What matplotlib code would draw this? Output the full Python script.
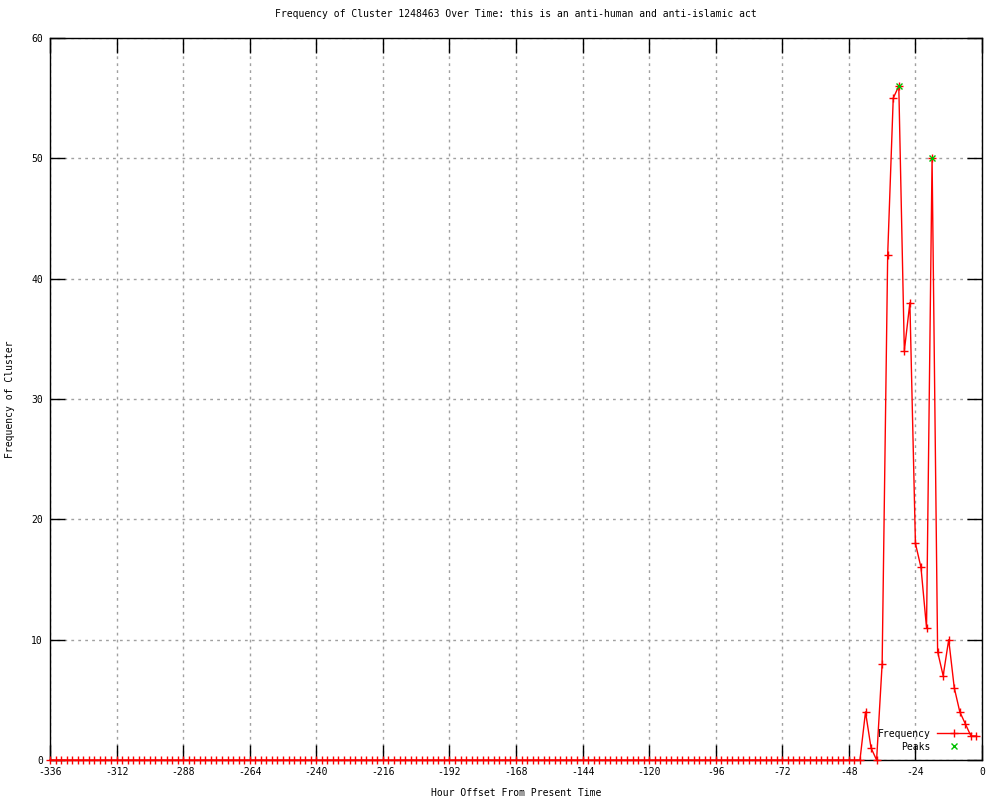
import numpy as np
import matplotlib.pyplot as plt

# hour offsets, one sample every 2 hours
hours = np.arange(-336, 0, 2)
freq = [
    0, 0, 0, 0, 0, 0, 0, 0, 0, 0, 0, 0, 0, 0, 0, 0, 0, 0, 0, 0, 0,
    0, 0, 0, 0, 0, 0, 0, 0, 0, 0, 0, 0, 0, 0, 0, 0, 0, 0, 0, 0, 0,
    0, 0, 0, 0, 0, 0, 0, 0, 0, 0, 0, 0, 0, 0, 0, 0, 0, 0, 0, 0, 0,
    0, 0, 0, 0, 0, 0, 0, 0, 0, 0, 0, 0, 0, 0, 0, 0, 0, 0, 0, 0, 0,
    0, 0, 0, 0, 0, 0, 0, 0, 0, 0, 0, 0, 0, 0, 0, 0, 0, 0, 0, 0, 0,
    0, 0, 0, 0, 0, 0, 0, 0, 0, 0, 0, 0, 0, 0, 0, 0, 0, 0, 0, 0, 0,
    0, 0, 0, 0, 0, 0, 0, 0, 0, 0, 0, 0, 0, 0, 0, 0, 0, 0, 0, 0, 0,
    4, 1, 0, 8, 42, 55, 56, 34, 38, 18, 16, 11, 50, 9, 7, 10, 6, 4, 3, 2, 2,
]
peak_hours = [-30, -18]
peak_vals = [56, 50]

xticks = list(range(-336, 1, 24))
yticks = list(range(0, 61, 10))

plt.rcParams['font.family'] = 'DejaVu Sans Mono'
plt.rcParams['font.size'] = 7
plt.rcParams['axes.unicode_minus'] = False

fig = plt.figure(figsize=(10, 8), dpi=100)
ax = fig.add_axes([0.05, 0.05, 0.932, 0.9025])

ax.plot(hours, freq, color='red', linewidth=1, marker='+', markersize=6,
        markeredgewidth=1, label='Frequency', clip_on=False, zorder=3)
ax.plot(peak_hours, peak_vals, linestyle='none', color='#00c000', marker='x',
        markersize=5, markeredgewidth=1, label='Peaks', zorder=4)

ax.set_xlim(-336, 0)
ax.set_ylim(0, 60)
ax.set_xticks(xticks)
ax.set_yticks(yticks)
ax.tick_params(direction='in', length=11, width=1, top=True, right=True,
               labelsize=7, pad=5)
ax.grid(True, color='#a0a0a0', linestyle=(0, (2, 3)), linewidth=1)
for s in ax.spines.values():
    s.set_linewidth(1)

ax.set_title('Frequency of Cluster 1248463 Over Time: this is an anti-human and anti-islamic act',
             fontsize=7, pad=15)
ax.set_xlabel('Hour Offset From Present Time', fontsize=7, labelpad=8)
ax.set_ylabel('Frequency of Cluster', fontsize=7, labelpad=12)

ax.legend(loc='lower right', bbox_to_anchor=(0.993, 0.005), markerfirst=False,
          frameon=False, fontsize=7, handlelength=3.5, labelspacing=0.3,
          borderpad=0, handletextpad=0.6)

fig.savefig('out.png', dpi=100)
